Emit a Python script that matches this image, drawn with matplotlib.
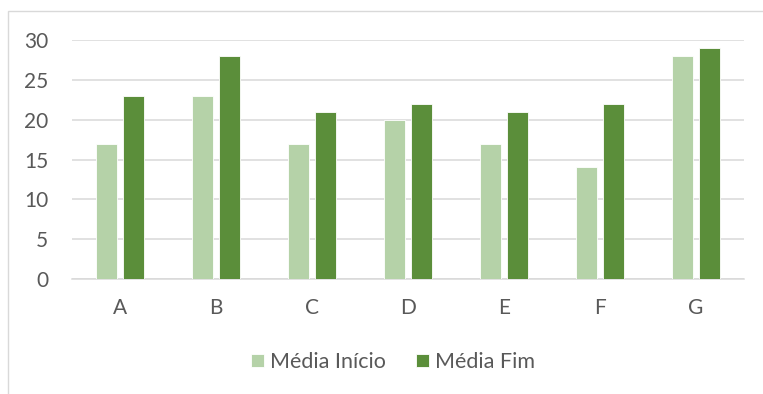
import matplotlib

matplotlib.use("Agg")
import matplotlib.pyplot as plt
import numpy as np
from matplotlib.patches import Rectangle

categories = ["A", "B", "C", "D", "E", "F", "G"]
media_inicio = [17, 23, 17, 20, 17, 14, 28]
media_fim = [23, 28, 21, 22, 21, 22, 29]
y_ticks = [0, 5, 10, 15, 20, 25, 30]

LIGHT = "#B5D2A8"
DARK = "#5B8E3A"
GRID = "#D9D9D9"
TEXT = "#595959"

plt.rcParams["font.family"] = ["Lato", "DejaVu Sans"]

W, H = 763, 394
fig = plt.figure(figsize=(W / 100, H / 100), dpi=100)
ax = fig.add_axes([72 / W, 115 / H, 672 / W, 239 / H])

x = np.arange(len(categories))
width = 0.22
off = 0.14
ax.bar(x - off, media_inicio, width, color=LIGHT, edgecolor="white", linewidth=0.6,
       label="Média Início", zorder=3)
ax.bar(x + off, media_fim, width, color=DARK, edgecolor="white", linewidth=0.6,
       label="Média Fim", zorder=3)

ax.set_xlim(-0.5, len(categories) - 0.5)
ax.set_ylim(0, 30)
ax.set_yticks(y_ticks)
ax.set_xticks(x)
ax.set_xticklabels(categories)
ax.yaxis.grid(True, color=GRID, linewidth=1.1, zorder=0)
ax.tick_params(length=0, labelsize=15, colors=TEXT)
ax.tick_params(axis="y", pad=17)
ax.tick_params(axis="x", pad=14)
for side in ("top", "right", "left"):
    ax.spines[side].set_visible(False)
ax.spines["bottom"].set_color(GRID)
ax.spines["bottom"].set_linewidth(1.1)

leg = fig.legend(loc="center", bbox_to_anchor=(393 / W, 32 / H), ncol=2, frameon=False,
                 fontsize=15.5, handlelength=0.6, handleheight=0.6, handletextpad=0.3,
                 columnspacing=1.4)
for t in leg.get_texts():
    t.set_color(TEXT)

# chart area border
fig.add_artist(Rectangle((8 / W, -0.1), 1.0, (H - 11) / H + 0.1, transform=fig.transFigure,
                         fill=False, edgecolor=GRID, linewidth=1.0))

fig.savefig("out.png", dpi=100)
